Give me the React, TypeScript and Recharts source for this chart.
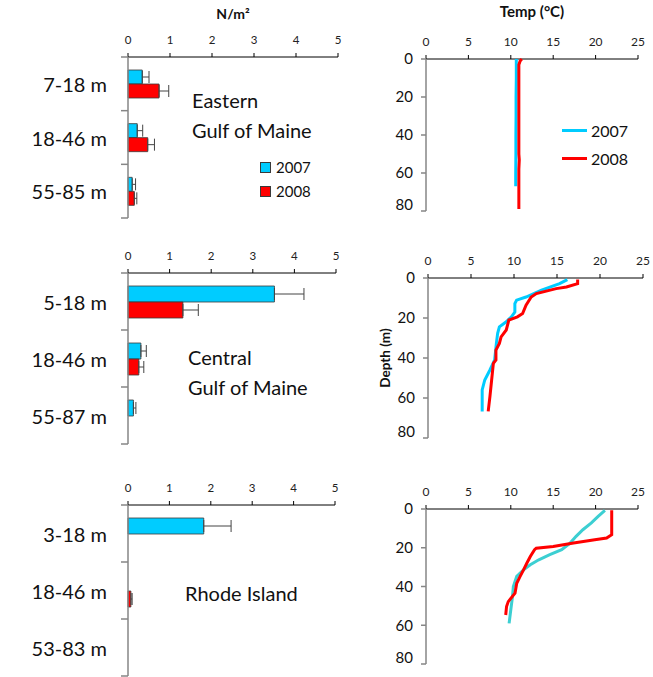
import React from "react";
import { BarChart, Bar, XAxis, YAxis, ErrorBar, ScatterChart, Scatter, Legend } from "recharts";

const FONT = "Lato, 'Liberation Sans', sans-serif";
const CYAN = "#00CCFF";
const TEAL = "#3CCFD2";
const RED = "#FF0000";
const AXIS_GRAY = "#868686";
const EDGE = "#3a3a3a";

// larval density, N/m2, by depth bin
const easternBins = ["7-18 m", "18-46 m", "55-85 m"];
const eastern2007 = [0.34, 0.22, 0.1];
const eastern2007Err = [0.16, 0.13, 0.08];
const eastern2008 = [0.74, 0.47, 0.15];
const eastern2008Err = [0.23, 0.16, 0.06];

const centralBins = ["5-18 m", "18-46 m", "55-87 m"];
const central2007 = [3.52, 0.31, 0.13];
const central2007Err = [0.71, 0.13, 0.06];
const central2008 = [1.32, 0.26, 0];
const central2008Err = [0.37, 0.12, 0];

const rhodeBins = ["3-18 m", "18-46 m", "53-83 m"];
const rhode2007 = [1.83, 0, 0];
const rhode2007Err = [0.66, 0, 0];
const rhode2008 = [0, 0.07, 0];
const rhode2008Err = [0, 0.03, 0];

const densityTicks = [0, 1, 2, 3, 4, 5];

// temperature profiles (depth m, temp C)
const eastDepth07 = [0, 10, 20, 30, 40, 50, 60, 67];
const eastTemp07 = [10.65, 10.65, 10.62, 10.62, 10.6, 10.6, 10.58, 10.58];
const eastDepth08 = [0, 1, 3, 10, 20, 30, 40, 50, 53, 58, 60, 70, 79];
const eastTemp08 = [11.3, 11.1, 10.95, 10.95, 10.95, 10.95, 10.95, 10.95, 11.0, 10.95, 10.95, 10.95, 10.95];

const centDepth07 = [0.8, 2.8, 6.1, 9.5, 11.1, 12.8, 17, 19.4, 21.9, 24.4, 27.7, 32.7, 41, 46, 51, 56, 66.7];
const centTemp07 = [16.2, 15.3, 13.2, 11.4, 10.3, 10.1, 10.1, 9.7, 9.1, 8.3, 8.1, 7.95, 7.75, 7.2, 6.6, 6.3, 6.3];
const centDepth08 = [0.8, 2.8, 4.5, 5.3, 7.8, 9.5, 13.6, 17.8, 19.4, 21, 22.7, 26, 29.4, 32.7, 36, 41, 42.7, 51, 59.3, 66.7];
const centTemp08 = [17.4, 17.4, 16.1, 14.9, 12.6, 12.0, 11.4, 11.0, 10.4, 9.4, 9.3, 9.1, 8.5, 8.3, 7.9, 7.9, 7.6, 7.4, 7.2, 7.0];

const rhodeDepth07 = [0.7, 3.8, 7.2, 10.7, 14.1, 17.6, 21, 23.6, 26.2, 28.8, 31.4, 34.8, 40, 45.2, 52, 59];
const rhodeTemp07 = [21.1, 20.3, 19.5, 18.5, 17.7, 17.0, 16.0, 14.6, 13.3, 12.3, 11.5, 10.7, 10.3, 10.2, 10.0, 9.8];
const rhodeDepth08 = [0.7, 13.3, 15, 15.9, 17.6, 19.3, 20.2, 21, 24.5, 27.9, 31.4, 34.8, 38.3, 43.4, 47.8, 50.3, 54.7];
const rhodeTemp08 = [21.9, 21.9, 21.3, 19.9, 17.4, 15.0, 13.0, 12.8, 12.3, 11.9, 11.5, 11.1, 10.7, 10.5, 9.7, 9.5, 9.4];

const tempTicks = [0, 5, 10, 15, 20, 25];
const depthTicks = [0, 20, 40, 60, 80];

const toRows = (bins: string[], a: number[], aErr: number[], b: number[], bErr: number[]) =>
  bins.map((bin, i) => ({ bin, y2007: a[i], e2007: [0, aErr[i]], y2008: b[i], e2008: [0, bErr[i]] }));

const toProfile = (depth: number[], temp: number[]) => depth.map((d, i) => ({ d, t: temp[i] }));

const CAT_AXIS_W = 128;
const TOP_AXIS_H = 57;

function CategoryTick(props: any) {
  const { x, y, payload, index, band, count } = props;
  const half = band / 2;
  return (
    <g>
      <text x={x} y={y} textAnchor="end" dominantBaseline="central" fontSize={20} fill="#111" fontFamily={FONT}>
        {payload.value}
      </text>
      <line x1={CAT_AXIS_W - 7} x2={CAT_AXIS_W} y1={y - half} y2={y - half} stroke={AXIS_GRAY} strokeWidth={1.5} />
      {index === count - 1 && (
        <line x1={CAT_AXIS_W - 7} x2={CAT_AXIS_W} y1={y + half} y2={y + half} stroke={AXIS_GRAY} strokeWidth={1.5} />
      )}
    </g>
  );
}

function SquareLegend({ payload }: any) {
  return (
    <div style={{ fontFamily: FONT, fontSize: 15, color: "#111" }}>
      {(payload || []).map((p: any) => (
        <div key={p.value} style={{ display: "flex", alignItems: "center", height: 24 }}>
          <span style={{ width: 9, height: 9, background: p.color, border: `1px solid ${EDGE}`, marginRight: 5 }} />
          {p.value}
        </div>
      ))}
    </div>
  );
}

function LineLegend({ payload }: any) {
  return (
    <div style={{ fontFamily: FONT, fontSize: 16, color: "#111" }}>
      {(payload || []).map((p: any) => (
        <div key={p.value} style={{ display: "flex", alignItems: "center", height: 28 }}>
          <span style={{ width: 25, height: 3, background: p.color, marginRight: 4 }} />
          {p.value}
        </div>
      ))}
    </div>
  );
}

function DensityPanel({ top, plotHeight, right, barSize, rows, title, legend }: any) {
  const band = plotHeight / rows.length;
  return (
    <div style={{ position: "absolute", left: 0, top }}>
      <BarChart
        width={350}
        height={TOP_AXIS_H + plotHeight + 2}
        data={rows}
        layout="vertical"
        margin={{ top: 0, right, bottom: 2, left: 0 }}
        barGap={0}
        barSize={barSize}
      >
        <XAxis
          type="number"
          orientation="top"
          domain={[0, 5]}
          ticks={densityTicks}
          height={TOP_AXIS_H}
          stroke="#000"
          tickSize={4}
          tickMargin={9}
          tick={{ fontSize: 11.5, fill: "#222", fontFamily: FONT }}
          label={
            title
              ? { value: title, position: "insideTop", offset: 9, fontSize: 14, fontWeight: 700, fill: "#111", fontFamily: FONT }
              : undefined
          }
        />
        <YAxis
          type="category"
          dataKey="bin"
          width={CAT_AXIS_W}
          stroke={AXIS_GRAY}
          strokeWidth={1.5}
          tickLine={false}
          tickSize={6}
          tickMargin={15}
          tick={(p: any) => <CategoryTick {...p} band={band} count={rows.length} />}
        />
        <Bar dataKey="y2007" name="2007" fill={CYAN} stroke={EDGE} strokeWidth={0.8} isAnimationActive={false}>
          <ErrorBar dataKey="e2007" direction="x" width={6} stroke="#444" strokeWidth={1} />
        </Bar>
        <Bar dataKey="y2008" name="2008" fill={RED} stroke={EDGE} strokeWidth={0.8} isAnimationActive={false}>
          <ErrorBar dataKey="e2008" direction="x" width={6} stroke="#444" strokeWidth={1} />
        </Bar>
        {legend && (
          <Legend
            layout="horizontal"
            verticalAlign="middle"
            align="center"
            content={<SquareLegend />}
            wrapperStyle={{ left: legend.left, top: legend.top, width: 80 }}
          />
        )}
      </BarChart>
    </div>
  );
}

function ProfilePanel({ left, top, width, axisHeight, plotHeight, right, series, title, yLabel, legend }: any) {
  return (
    <div style={{ position: "absolute", left, top }}>
      <ScatterChart width={width} height={axisHeight + plotHeight + 2} margin={{ top: 0, right, bottom: 2, left: 0 }}>
        <XAxis
          type="number"
          dataKey="t"
          orientation="top"
          domain={[0, 25]}
          ticks={tempTicks}
          height={axisHeight}
          stroke="#000"
          tickSize={4}
          tickMargin={9}
          tick={{ fontSize: 12, fill: "#222", fontFamily: FONT }}
          label={
            title
              ? { value: title, position: "insideTop", offset: 6, fontSize: 15, fontWeight: 700, fill: "#111", fontFamily: FONT }
              : undefined
          }
        />
        <YAxis
          type="number"
          dataKey="d"
          domain={[0, 80]}
          ticks={depthTicks}
          reversed
          width={66}
          stroke={AXIS_GRAY}
          strokeWidth={1.5}
          tickSize={5}
          tickMargin={8}
          tick={{ fontSize: 15, fill: "#111", fontFamily: FONT }}
          label={
            yLabel
              ? { value: yLabel, angle: -90, position: "center", dx: -10, fontSize: 13.5, fontWeight: 700, fill: "#111", fontFamily: FONT }
              : undefined
          }
        />
        {series.map((s: any) => (
          <Scatter
            key={s.name}
            name={s.name}
            data={s.points}
            fill={s.color}
            line={{ stroke: s.color, strokeWidth: 3 }}
            shape={() => <g />}
            isAnimationActive={false}
          />
        ))}
        {legend && (
          <Legend
            layout="horizontal"
            verticalAlign="middle"
            align="center"
            content={<LineLegend />}
            wrapperStyle={{ left: legend.left, top: legend.top, width: 80 }}
          />
        )}
      </ScatterChart>
    </div>
  );
}

function Note({ left, firstY, lines }: { left: number; firstY: number; lines: string[] }) {
  return (
    <div
      style={{
        position: "absolute",
        left,
        top: firstY - 15,
        fontFamily: FONT,
        fontSize: 20,
        lineHeight: "30px",
        color: "#111",
        whiteSpace: "nowrap",
      }}
    >
      {lines.map((l) => (
        <div key={l}>{l}</div>
      ))}
    </div>
  );
}

export default function App() {
  return (
    <div style={{ position: "absolute", left: 0, top: 0, width: 653, height: 677, background: "#fff", overflow: "hidden" }}>
      <DensityPanel
        top={0}
        plotHeight={161}
        right={12}
        barSize={14}
        title="N/m²"
        rows={toRows(easternBins, eastern2007, eastern2007Err, eastern2008, eastern2008Err)}
        legend={{ left: 260, top: 155 }}
      />
      <DensityPanel
        top={216}
        plotHeight={171}
        right={14}
        barSize={16}
        rows={toRows(centralBins, central2007, central2007Err, central2008, central2008Err)}
      />
      <DensityPanel
        top={448}
        plotHeight={171}
        right={15}
        barSize={16}
        rows={toRows(rhodeBins, rhode2007, rhode2007Err, rhode2008, rhode2008Err)}
      />
      <Note left={192} firstY={100} lines={["Eastern", "Gulf of Maine"]} />
      <Note left={188} firstY={357} lines={["Central", "Gulf of Maine"]} />
      <Note left={185} firstY={593} lines={["Rhode Island"]} />

      <ProfilePanel
        left={360}
        top={0}
        width={293}
        axisHeight={59}
        plotHeight={152}
        right={15}
        title="Temp (°C)"
        series={[
          { name: "2007", color: CYAN, points: toProfile(eastDepth07, eastTemp07) },
          { name: "2008", color: RED, points: toProfile(eastDepth08, eastTemp08) },
        ]}
        legend={{ left: 202, top: 116 }}
      />
      <ProfilePanel
        left={362}
        top={236}
        width={291}
        axisHeight={42}
        plotHeight={160}
        right={10}
        yLabel="Depth (m)"
        series={[
          { name: "2007", color: CYAN, points: toProfile(centDepth07, centTemp07) },
          { name: "2008", color: RED, points: toProfile(centDepth08, centTemp08) },
        ]}
      />
      <ProfilePanel
        left={360}
        top={467}
        width={293}
        axisHeight={42}
        plotHeight={155}
        right={15}
        series={[
          { name: "2007", color: TEAL, points: toProfile(rhodeDepth07, rhodeTemp07) },
          { name: "2008", color: RED, points: toProfile(rhodeDepth08, rhodeTemp08) },
        ]}
      />
    </div>
  );
}
